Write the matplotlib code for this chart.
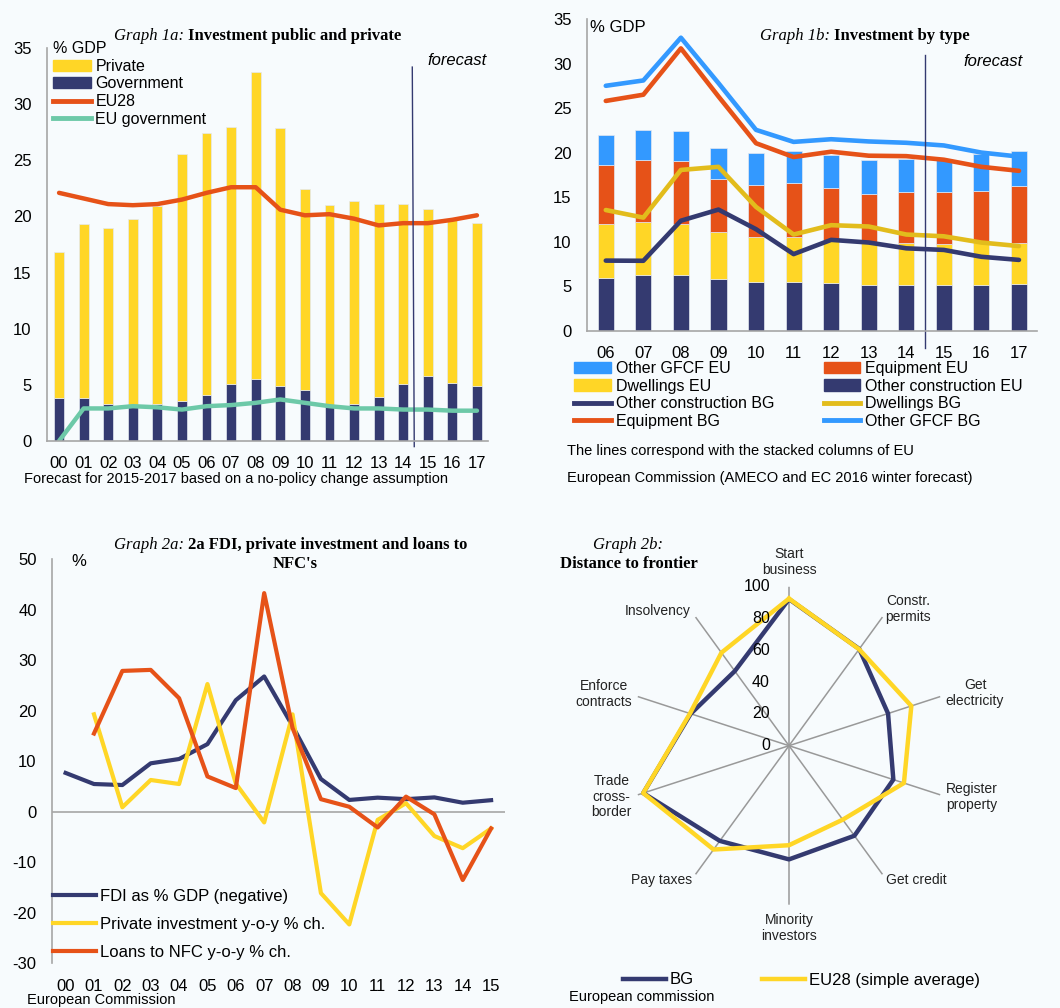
import numpy as np
import matplotlib.pyplot as plt
from matplotlib.lines import Line2D
from matplotlib.patches import Patch

plt.rcParams['font.family'] = ['Liberation Sans', 'DejaVu Sans']
plt.rcParams['axes.unicode_minus'] = False

# colours
BG_COL = '#f7fbfd'
YELLOW = '#ffd626'
NAVY = '#343a70'
ORANGE = '#e65218'
TEAL = '#6dc9a8'
BLUE = '#3399ff'
DKYELLOW = '#e2bc1c'
GREY = '#a6a6a6'

# Graph 1a data
years_1a = ['00', '01', '02', '03', '04', '05', '06', '07', '08', '09',
            '10', '11', '12', '13', '14', '15', '16', '17']
gov_1a = [3.8, 3.8, 3.3, 3.2, 3.3, 3.6, 4.1, 5.1, 5.5, 4.9, 4.5, 3.2, 3.3, 3.9, 5.1, 5.8, 5.2, 4.9]
private_1a = [13.0, 15.5, 15.7, 16.6, 17.6, 22.0, 23.3, 22.9, 27.4, 23.0,
              17.9, 17.8, 18.1, 17.2, 16.0, 14.9, 14.5, 14.5]
eu28_1a = [22.1, 21.6, 21.1, 21.0, 21.1, 21.5, 22.1, 22.6, 22.6, 20.6,
           20.1, 20.2, 19.8, 19.2, 19.4, 19.4, 19.7, 20.1]
eu_gov_1a = [0.0, 2.9, 2.9, 3.1, 3.0, 2.8, 3.1, 3.2, 3.4, 3.7, 3.4, 3.1, 2.9, 2.9, 2.8, 2.8, 2.7, 2.7]

# Graph 1b data (EU stacked columns, BG cumulative lines)
years_1b = ['06', '07', '08', '09', '10', '11', '12', '13', '14', '15', '16', '17']
other_constr_eu = [5.95, 6.25, 6.25, 5.8, 5.45, 5.5, 5.35, 5.15, 5.15, 5.1, 5.1, 5.25]
dwellings_eu = [6.0, 6.0, 5.75, 5.3, 5.05, 5.0, 4.85, 4.85, 4.75, 4.6, 4.9, 4.65]
equipment_eu = [6.7, 6.95, 7.0, 5.9, 5.9, 6.1, 5.8, 5.4, 5.7, 5.85, 5.7, 6.3]
other_gfcf_eu = [3.35, 3.35, 3.4, 3.5, 3.6, 3.6, 3.7, 3.8, 3.7, 3.75, 4.1, 4.0]
other_constr_bg = [7.87, 7.85, 12.35, 13.6, 11.4, 8.6, 10.2, 9.9, 9.25, 9.07, 8.3, 7.95]
dwellings_bg = [13.55, 12.7, 18.05, 18.4, 13.9, 10.8, 11.85, 11.7, 10.8, 10.6, 9.9, 9.5]
equipment_bg = [25.8, 26.5, 31.7, 26.3, 21.05, 19.5, 20.1, 19.65, 19.6, 19.2, 18.4, 17.95]
other_gfcf_bg = [27.5, 28.1, 32.9, 27.8, 22.55, 21.2, 21.5, 21.25, 21.1, 20.8, 20.0, 19.55]

# Graph 2a data
years_2a = ['00', '01', '02', '03', '04', '05', '06', '07', '08', '09',
            '10', '11', '12', '13', '14', '15']
fdi = [7.7, 5.5, 5.3, 9.6, 10.45, 13.4, 22.1, 26.8, 17.0, 6.5, 2.35, 2.8, 2.5, 2.85, 1.8, 2.3]
priv_inv = [np.nan, 19.3, 0.9, 6.3, 5.5, 25.3, 5.6, -2.1, 19.3, -16.1, -22.3, -1.6, 1.7, -4.8, -7.2, -3.3]
loans_nfc = [np.nan, 15.5, 27.9, 28.1, 22.5, 7.0, 4.7, 43.3, 16.6, 2.5, 1.0, -3.1, 3.0, -0.5, -13.5, -3.3]

# Graph 2b data
categories = ['Start\nbusiness', 'Constr.\npermits', 'Get\nelectricity', 'Register\nproperty',
              'Get credit', 'Minority\ninvestors', 'Pay taxes', 'Trade\ncross-\nborder',
              'Enforce\ncontracts', 'Insolvency']
dtf_bg = [92.2, 75.2, 65.5, 69.0, 70.0, 71.5, 74.0, 96.4, 65.0, 58.0]
dtf_eu = [92.5, 75.0, 80.9, 76.0, 57.5, 62.6, 80.7, 96.4, 65.5, 72.3]

W, H = 1060, 1008
fig = plt.figure(figsize=(W / 100, H / 100), dpi=100, facecolor=BG_COL)


def fx(px):
    return px / W


def fy(py):
    return 1 - py / H


def style_axes(ax):
    ax.set_facecolor(BG_COL)
    for s in ['top', 'right']:
        ax.spines[s].set_visible(False)
    for s in ['left', 'bottom']:
        ax.spines[s].set_color(GREY)
        ax.spines[s].set_linewidth(1.2)
    ax.tick_params(length=0, labelsize=12, pad=11)


def title(xsplit, y, italic, bold):
    fig.text(fx(xsplit), fy(y), italic + ' ', family='Liberation Serif', style='italic',
             fontsize=12, ha='right', va='center')
    fig.text(fx(xsplit), fy(y), bold, family='Liberation Serif', weight='bold',
             fontsize=12, ha='left', va='center')


# ---------------- Graph 1a ----------------
ax1 = fig.add_axes([fx(47), fy(441), fx(441), 393 / H])
style_axes(ax1)
x1 = np.arange(len(years_1a))
ax1.bar(x1, gov_1a, width=0.4, color=NAVY, edgecolor='#e4e8f0', linewidth=0.5)
ax1.bar(x1, private_1a, width=0.4, bottom=gov_1a, color=YELLOW, edgecolor='#e4e8f0', linewidth=0.5)
ax1.plot(x1, eu28_1a, color=ORANGE, lw=3.2, solid_capstyle='round')
ax1.plot(x1, eu_gov_1a, color=TEAL, lw=3.2, solid_capstyle='round')
ax1.set_xlim(-0.49, 17.45)
ax1.set_ylim(0, 35)
ax1.set_yticks(range(0, 36, 5))
ax1.set_xticks(x1)
ax1.set_xticklabels(years_1a)
ax1.plot([14.37, 14.45], [33.3, -0.5], color=NAVY, lw=1, clip_on=False)
ax1.text(16.2, 33.9, 'forecast', style='italic', fontsize=12, ha='center', va='center')
h1 = [Patch(color=YELLOW), Patch(color=NAVY),
      Line2D([], [], color=ORANGE, lw=3.5), Line2D([], [], color=TEAL, lw=3.5)]
leg = ax1.legend(h1, ['Private', 'Government', 'EU28', 'EU government'], title='% GDP',
                 alignment='left', loc='upper left', bbox_to_anchor=(fx(53), fy(41)),
                 bbox_transform=fig.transFigure, frameon=False, fontsize=11.5,
                 title_fontsize=11.5, borderpad=0, labelspacing=0.17, handlelength=2.4,
                 handletextpad=0.25, borderaxespad=0)
title(188, 36, 'Graph 1a:', 'Investment public and private')
fig.text(fx(24), fy(479), 'Forecast for 2015-2017 based on a no-policy change assumption',
         fontsize=10.5, va='center')

# ---------------- Graph 1b ----------------
ax2 = fig.add_axes([fx(587), fy(330.7), fx(450), 311.7 / H])
style_axes(ax2)
x2 = np.arange(len(years_1b))
b0 = np.array(other_constr_eu)
b1 = b0 + np.array(dwellings_eu)
b2 = b1 + np.array(equipment_eu)
kw = dict(width=0.43, edgecolor='#e4e8f0', linewidth=0.5)
ax2.bar(x2, other_constr_eu, color=NAVY, **kw)
ax2.bar(x2, dwellings_eu, bottom=b0, color=YELLOW, **kw)
ax2.bar(x2, equipment_eu, bottom=b1, color=ORANGE, **kw)
ax2.bar(x2, other_gfcf_eu, bottom=b2, color=BLUE, **kw)
ax2.plot(x2, other_constr_bg, color=NAVY, lw=3.3, solid_capstyle='round')
ax2.plot(x2, dwellings_bg, color=DKYELLOW, lw=3.3, solid_capstyle='round')
ax2.plot(x2, equipment_bg, color=ORANGE, lw=3.3, solid_capstyle='round')
ax2.plot(x2, other_gfcf_bg, color=BLUE, lw=3.3, solid_capstyle='round')
ax2.set_xlim(-0.5, 11.48)
ax2.set_ylim(0, 35)
ax2.set_yticks(range(0, 36, 5))
ax2.set_xticks(x2)
ax2.set_xticklabels(years_1b)
ax2.plot([8.5, 8.5], [31.0, -1.9], color=NAVY, lw=1, clip_on=False)
ax2.text(10.3, 30.2, 'forecast', style='italic', fontsize=12, ha='center', va='center')
ax2.text(-0.43, 34.1, '% GDP', fontsize=12, ha='left', va='center')
title(834, 36, 'Graph 1b:', 'Investment by type')
h2 = [Patch(color=BLUE), Patch(color=YELLOW),
      Line2D([], [], color=NAVY, lw=3.5), Line2D([], [], color=ORANGE, lw=3.5),
      Patch(color=ORANGE), Patch(color=NAVY),
      Line2D([], [], color=DKYELLOW, lw=3.5), Line2D([], [], color=BLUE, lw=3.5)]
l2 = ['Other GFCF EU', 'Dwellings EU', 'Other construction BG', 'Equipment BG',
      'Equipment EU', 'Other construction EU', 'Dwellings BG', 'Other GFCF BG']
fig.legend(h2, l2, ncol=2, loc='upper left', bbox_to_anchor=(fx(574), fy(361)),
           frameon=False, fontsize=11.5, borderpad=0, labelspacing=0.16, handlelength=2.3,
           handletextpad=0.3, columnspacing=3.1, borderaxespad=0)
fig.text(fx(567), fy(451), 'The lines correspond with the stacked columns of EU',
         fontsize=10.5, va='center')
fig.text(fx(567), fy(478), 'European Commission (AMECO and EC 2016 winter forecast)',
         fontsize=10.5, va='center')

# ---------------- Graph 2a ----------------
ax3 = fig.add_axes([fx(52), fy(963.3), fx(453), 404 / H])
style_axes(ax3)
ax3.spines['bottom'].set_visible(False)
x3 = np.arange(len(years_2a))
ax3.axhline(0, color=GREY, lw=1.2)
ax3.plot(x3, fdi, color=NAVY, lw=3, label='FDI as % GDP (negative)')
ax3.plot(x3, priv_inv, color=YELLOW, lw=3, label='Private investment y-o-y % ch.')
ax3.plot(x3, loans_nfc, color=ORANGE, lw=3, label='Loans to NFC y-o-y % ch.')
ax3.set_xlim(-0.48, 15.49)
ax3.set_ylim(-30, 50)
ax3.set_yticks(range(-30, 51, 10))
ax3.set_xticks(x3)
ax3.set_xticklabels(years_2a)
ax3.tick_params(axis='x', pad=11)
ax3.text(0.45, 49.5, '%', fontsize=12, ha='center', va='center')
ax3.legend(loc='upper left', bbox_to_anchor=(fx(53), fy(889)), bbox_transform=fig.transFigure,
           frameon=False, fontsize=12, borderpad=0, labelspacing=0.78, handlelength=2.6,
           handletextpad=0.2, borderaxespad=0)
title(188, 545, 'Graph 2a:', '2a FDI, private investment and loans to')
fig.text(fx(295), fy(564), "NFC's", family='Liberation Serif', weight='bold',
         fontsize=12, ha='center', va='center')
fig.text(fx(27), fy(1000), 'European Commission', fontsize=10.5, va='center')

# ---------------- Graph 2b ----------------
cx, cy, R = 789, 745.7, 159
ax4 = fig.add_axes([fx(cx - R), fy(cy + R), fx(2 * R), 2 * R / H], projection='polar')
ax4.set_facecolor('none')
ax4.set_theta_zero_location('N')
ax4.set_theta_direction(-1)
ang = np.deg2rad(np.arange(len(categories)) * 36)
ax4.set_xticks(ang)
ax4.set_xticklabels([])
ax4.set_yticks([])
ax4.set_ylim(0, 100)
ax4.spines['polar'].set_visible(False)
ax4.xaxis.grid(True, color='#999999', lw=1.1)
ang_c = np.append(ang, ang[0])
ax4.plot(ang_c, dtf_bg + dtf_bg[:1], color=NAVY, lw=3.2, label='BG')
ax4.plot(ang_c, dtf_eu + dtf_eu[:1], color=YELLOW, lw=3.2, label='EU28 (simple average)')
lab_pos = [(0, 115.5), (41, 114), (74.2, 121.6), (105.7, 119.5), (136.4, 116.5),
           (180, 114.7), (223.5, 116.5), (253.9, 116), (285.6, 120.8), (315.7, 118.3)]
for lab, (a, r) in zip(categories, lab_pos):
    ax4.text(np.deg2rad(a), r, lab, fontsize=10, ha='center', va='center',
             linespacing=1.15, color='#222222')
for v in range(0, 101, 20):
    ax4.annotate(str(v), xy=(0, v), xytext=(-19, 0), textcoords='offset pixels',
                 ha='right', va='center', fontsize=11.5)
ax4.legend(loc='center left', bbox_to_anchor=(fx(623), fy(980)), bbox_transform=fig.transFigure,
           ncol=2, frameon=False, fontsize=12, borderpad=0, handlelength=2.6,
           handletextpad=0.2, columnspacing=4.1, borderaxespad=0)
fig.text(fx(628), fy(545), 'Graph 2b:', family='Liberation Serif', style='italic',
         fontsize=12, ha='center', va='center')
fig.text(fx(629), fy(564), 'Distance to frontier', family='Liberation Serif', weight='bold',
         fontsize=12, ha='center', va='center')
fig.text(fx(569), fy(997), 'European commission', fontsize=10.5, va='center')

fig.savefig('out.png', dpi=100, facecolor=BG_COL)
